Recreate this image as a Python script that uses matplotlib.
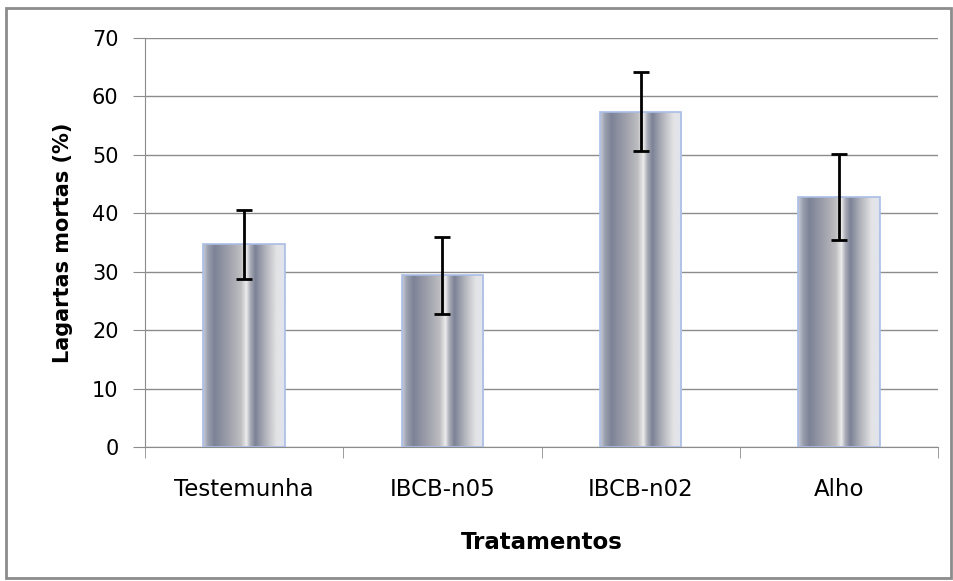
import numpy as np
import matplotlib.pyplot as plt
from matplotlib.colors import LinearSegmentedColormap
from matplotlib.patches import Rectangle

# data
categories = ["Testemunha", "IBCB-n05", "IBCB-n02", "Alho"]
values = [34.7, 29.4, 57.3, 42.8]
err_low = [28.8, 22.7, 50.6, 35.4]
err_high = [40.6, 36.0, 64.1, 50.1]

yerr = [np.array(values) - np.array(err_low), np.array(err_high) - np.array(values)]

# bar shading (cylinder-like gradient across the width)
bar_cmap = LinearSegmentedColormap.from_list(
    "bar",
    [
        (0.00, "#c9cdd8"),
        (0.06, "#9a9fae"),
        (0.14, "#7d8397"),
        (0.30, "#9c9eaa"),
        (0.46, "#bdbdc0"),
        (0.53, "#ececec"),
        (0.58, "#a8abb6"),
        (0.64, "#7c8296"),
        (0.76, "#b0b2ba"),
        (0.90, "#e4e4e6"),
        (1.00, "#e0e4ee"),
    ],
)

fig = plt.figure(figsize=(9.54, 5.81), dpi=100)
ax = fig.add_axes([145 / 954, 1 - 447 / 581, (938 - 145) / 954, 409 / 581])

# outer frame of the chart
fig.patches.append(Rectangle((6 / 954, 3 / 581), 945 / 954, 570 / 581,
                             transform=fig.transFigure, fill=False,
                             edgecolor="#8c8c8c", linewidth=2))

x = np.arange(len(categories))
width = 0.41
bars = ax.bar(x, values, width=width, color="none", edgecolor="#a9bde6",
              linewidth=1.2, zorder=3)

grad = np.linspace(0, 1, 256).reshape(1, -1)
for b in bars:
    im = ax.imshow(grad, cmap=bar_cmap, aspect="auto", zorder=2.5,
                   extent=[b.get_x(), b.get_x() + b.get_width(), 0, b.get_height()])
    im.set_clip_path(b)

ax.errorbar(x, values, yerr=yerr, fmt="none", ecolor="black", elinewidth=2,
            capsize=6, capthick=2, zorder=4)

ax.set_xlim(-0.5, 3.5)
ax.set_ylim(0, 70)
ax.set_yticks(range(0, 71, 10))
ax.yaxis.grid(True, color="#8c8c8c", linewidth=1)
ax.set_axisbelow(True)

for s in ["top", "right"]:
    ax.spines[s].set_visible(False)
ax.spines["left"].set_color("#8c8c8c")
ax.spines["bottom"].set_color("#8c8c8c")

ax.set_xticks(x)
ax.set_xticklabels(categories)
ax.set_xticks(np.arange(-0.5, 4, 1), minor=True)
ax.tick_params(axis="x", which="major", length=0, pad=22, labelsize=16.5)
ax.tick_params(axis="x", which="minor", length=8, color="#8c8c8c")
ax.tick_params(axis="y", length=9, color="#8c8c8c", pad=10, labelsize=15)

ax.set_xlabel("Tratamentos", fontsize=16.5, fontweight="bold", labelpad=22)
ax.set_ylabel("Lagartas mortas (%)", fontsize=15, fontweight="bold", labelpad=14)

fig.savefig("out.png", dpi=100)
